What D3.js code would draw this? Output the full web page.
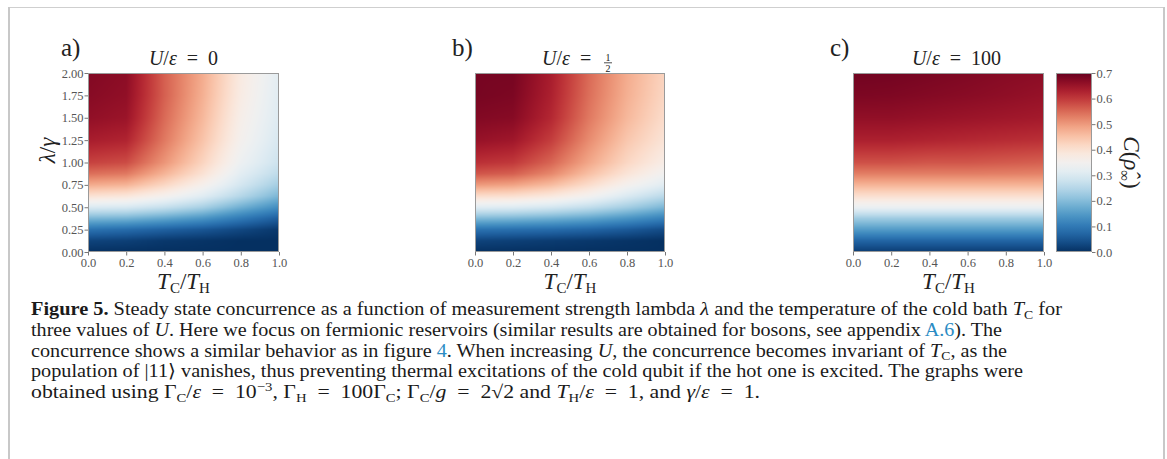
<!DOCTYPE html>
<html>
<head>
<meta charset="utf-8">
<script src="https://cdn.jsdelivr.net/npm/d3@7"></script>
<style>
  body { margin: 0; background: #fff; }
  text { font-family: "Liberation Serif", "DejaVu Serif", serif; }
</style>
</head>
<body>
<svg id="fig" width="1167" height="459"></svg>
<script>
const xGrid = [0, 0.2, 0.4, 0.6, 0.8, 1.0];          // T_C / T_H
const yGrid = [0, 0.125, 0.25, 0.375, 0.5, 0.625, 0.75, 0.875, 1.0, 1.25, 1.5, 1.75, 2.0]; // lambda / gamma

// rows follow yGrid (bottom -> top), columns follow xGrid
const concA = [ // U/eps = 0
  [0, 0, 0, 0, 0, 0],
  [0.025, 0.02, 0.01, 0.005, 0, 0],
  [0.09, 0.08, 0.065, 0.05, 0.03, 0.01],
  [0.19, 0.185, 0.165, 0.14, 0.10, 0.06],
  [0.30, 0.295, 0.27, 0.235, 0.18, 0.13],
  [0.40, 0.39, 0.355, 0.31, 0.25, 0.19],
  [0.48, 0.47, 0.42, 0.36, 0.29, 0.23],
  [0.545, 0.535, 0.47, 0.40, 0.315, 0.26],
  [0.59, 0.58, 0.505, 0.425, 0.335, 0.28],
  [0.635, 0.625, 0.535, 0.45, 0.355, 0.295],
  [0.66, 0.65, 0.55, 0.465, 0.365, 0.305],
  [0.67, 0.66, 0.56, 0.475, 0.375, 0.31],
  [0.675, 0.665, 0.56, 0.48, 0.38, 0.315]
];
const concB = [ // U/eps = 1/2
  [0, 0, 0, 0, 0, 0],
  [0.025, 0.02, 0.015, 0.01, 0.005, 0],
  [0.09, 0.085, 0.08, 0.07, 0.055, 0.035],
  [0.195, 0.19, 0.18, 0.165, 0.14, 0.11],
  [0.31, 0.305, 0.29, 0.265, 0.23, 0.19],
  [0.41, 0.405, 0.385, 0.35, 0.30, 0.255],
  [0.50, 0.49, 0.46, 0.41, 0.355, 0.31],
  [0.57, 0.56, 0.52, 0.455, 0.395, 0.345],
  [0.61, 0.60, 0.555, 0.485, 0.42, 0.37],
  [0.655, 0.645, 0.595, 0.515, 0.445, 0.395],
  [0.675, 0.67, 0.62, 0.535, 0.465, 0.41],
  [0.685, 0.68, 0.63, 0.545, 0.475, 0.42],
  [0.685, 0.685, 0.635, 0.55, 0.48, 0.425]
];
const concC = [ // U/eps = 100
  [0.015, 0.015, 0.015, 0.015, 0.015, 0.015],
  [0.07, 0.07, 0.07, 0.07, 0.07, 0.07],
  [0.15, 0.15, 0.15, 0.15, 0.15, 0.15],
  [0.225, 0.225, 0.225, 0.225, 0.225, 0.225],
  [0.33, 0.33, 0.33, 0.33, 0.33, 0.33],
  [0.405, 0.405, 0.405, 0.405, 0.405, 0.405],
  [0.47, 0.47, 0.47, 0.47, 0.47, 0.47],
  [0.53, 0.53, 0.53, 0.53, 0.528, 0.525],
  [0.575, 0.575, 0.57, 0.57, 0.565, 0.56],
  [0.63, 0.63, 0.625, 0.62, 0.615, 0.61],
  [0.66, 0.66, 0.655, 0.65, 0.645, 0.64],
  [0.68, 0.678, 0.673, 0.668, 0.662, 0.655],
  [0.69, 0.688, 0.683, 0.677, 0.67, 0.665]
];

const xTicks = [0, 0.2, 0.4, 0.6, 0.8, 1.0];
const yTicks = [0, 0.25, 0.5, 0.75, 1.0, 1.25, 1.5, 1.75, 2.0];
const cbTicks = [0, 0.1, 0.2, 0.3, 0.4, 0.5, 0.6, 0.7];
const panelLetters = ["a)", "b)", "c)"];
const panelTitles = ["0", "", "100"];

const svg = d3.select("#fig");
const color = d3.scaleSequential(t => d3.interpolateRdBu(1 - t)).domain([0, 0.7]);
const EQ = "\u2002=\u2002";

// page frame
svg.append("line").attr("x1", 8).attr("x2", 1164).attr("y1", 7.5).attr("y2", 7.5)
  .attr("stroke", "#cfcfcf").attr("stroke-width", 1);
svg.append("line").attr("x1", 9).attr("x2", 9).attr("y1", 7).attr("y2", 459)
  .attr("stroke", "#c8c8c8").attr("stroke-width", 2);
svg.append("line").attr("x1", 1164).attr("x2", 1164).attr("y1", 7).attr("y2", 459)
  .attr("stroke", "#c8c8c8").attr("stroke-width", 2);

const plotTop = 73, plotBottom = 252;
const panels = [
  { left: 88, right: 279, data: concA, yLabels: true },
  { left: 475, right: 665, data: concB, yLabels: false },
  { left: 853, right: 1044, data: concC, yLabels: false }
];

function valueAt(grid, xv, yv) {
  xv = Math.max(0, Math.min(1, xv));
  yv = Math.max(0, Math.min(2, yv));
  let i = Math.min(xGrid.length - 2, Math.max(0, d3.bisectRight(xGrid, xv) - 1));
  let j = Math.min(yGrid.length - 2, Math.max(0, d3.bisectRight(yGrid, yv) - 1));
  const tx = (xv - xGrid[i]) / (xGrid[i + 1] - xGrid[i]);
  const ty = (yv - yGrid[j]) / (yGrid[j + 1] - yGrid[j]);
  const a = grid[j][i] * (1 - tx) + grid[j][i + 1] * tx;
  const b = grid[j + 1][i] * (1 - tx) + grid[j + 1][i + 1] * tx;
  return a * (1 - ty) + b * ty;
}

panels.forEach((p, k) => {
  const x = d3.scaleLinear().domain([0, 1]).range([p.left, p.right]);
  const y = d3.scaleLinear().domain([0, 2]).range([plotBottom, plotTop]);
  const w = p.right - p.left, h = plotBottom - plotTop;

  const canvas = document.createElement("canvas");
  canvas.width = w; canvas.height = h;
  const ctx = canvas.getContext("2d");
  const img = ctx.createImageData(w, h);
  for (let r = 0; r < h; r++) {
    const yv = y.invert(plotTop + r + 0.5);
    for (let c = 0; c < w; c++) {
      const xv = x.invert(p.left + c + 0.5);
      const col = d3.rgb(color(valueAt(p.data, xv, yv)));
      const o = (r * w + c) * 4;
      img.data[o] = col.r; img.data[o + 1] = col.g; img.data[o + 2] = col.b; img.data[o + 3] = 255;
    }
  }
  ctx.putImageData(img, 0, 0);

  const g = svg.append("g");
  g.append("image").attr("href", canvas.toDataURL())
    .attr("x", p.left).attr("y", plotTop).attr("width", w).attr("height", h)
    .attr("preserveAspectRatio", "none");
  g.append("rect").attr("x", p.left + 0.5).attr("y", plotTop + 0.5)
    .attr("width", w - 1).attr("height", h - 1)
    .attr("fill", "none").attr("stroke", "#9a9a9a").attr("stroke-width", 1);

  const xAxis = g.append("g").attr("transform", `translate(0,${plotBottom})`)
    .call(d3.axisBottom(x).tickValues(xTicks).tickFormat(d3.format(".1f")).tickSize(3.5).tickSizeOuter(0));
  xAxis.select(".domain").remove();
  xAxis.selectAll("line").attr("stroke", "#777");
  xAxis.selectAll("text").attr("fill", "#555").attr("font-size", 12.5)
    .attr("y", 6).attr("dy", "0.71em");

  if (p.yLabels) {
    const yAxis = g.append("g").attr("transform", `translate(${p.left},0)`)
      .call(d3.axisLeft(y).tickValues(yTicks).tickFormat(d3.format(".2f")).tickSize(3.5).tickSizeOuter(0));
    yAxis.select(".domain").remove();
    yAxis.selectAll("line").attr("stroke", "#777");
    yAxis.selectAll("text").attr("fill", "#555").attr("font-size", 12.5).attr("x", -4.5);
    // y label
    const yl = svg.append("text")
      .attr("transform", `translate(55,${(plotTop + plotBottom) / 2 - 12}) rotate(-90)`)
      .attr("text-anchor", "middle").attr("font-size", 23).attr("fill", "#222");
    yl.append("tspan").attr("font-style", "italic").text("λ");
    yl.append("tspan").text("/");
    yl.append("tspan").attr("font-style", "italic").text("γ");
  }

  // x label T_C / T_H
  const xl = svg.append("text").attr("x", (p.left + p.right) / 2).attr("y", 289)
    .attr("text-anchor", "middle").attr("font-size", 23).attr("fill", "#222");
  xl.append("tspan").attr("font-style", "italic").text("T");
  xl.append("tspan").attr("font-size", 15).attr("dy", 4).text("C");
  xl.append("tspan").attr("dy", -4).text("/");
  xl.append("tspan").attr("font-style", "italic").text("T");
  xl.append("tspan").attr("font-size", 15).attr("dy", 4).text("H");

  // panel letter
  const lx = [61, 452, 830][k];
  svg.append("text").attr("x", lx).attr("y", 56).attr("font-size", 25).attr("fill", "#222")
    .text(panelLetters[k]);

  // title
  const cx = (p.left + p.right) / 2;
  const t = svg.append("text").attr("y", 65).attr("font-size", 20).attr("fill", "#222")
    .attr("text-anchor", k === 1 ? "start" : "middle").attr("x", k === 1 ? cx - 28 : cx + (k === 2 ? 8 : 0));
  t.append("tspan").attr("font-style", "italic").text("U");
  t.append("tspan").text("/");
  t.append("tspan").attr("font-style", "italic").text("ε");
  t.append("tspan").text(k === 1 ? "\u2002=" : EQ + panelTitles[k]);
  if (k === 1) {
    const fx = cx + 38;
    svg.append("text").attr("x", fx).attr("y", 60.5).attr("text-anchor", "middle")
      .attr("font-size", 10).attr("fill", "#222").text("1");
    svg.append("line").attr("x1", fx - 4).attr("x2", fx + 4).attr("y1", 62.8).attr("y2", 62.8)
      .attr("stroke", "#222").attr("stroke-width", 0.8);
    svg.append("text").attr("x", fx).attr("y", 72).attr("text-anchor", "middle")
      .attr("font-size", 10).attr("fill", "#222").text("2");
  }
});

// colorbar
const cbLeft = 1056, cbRight = 1092;
const cbScale = d3.scaleLinear().domain([0, 0.7]).range([plotBottom, plotTop]);
const grad = svg.append("defs").append("linearGradient").attr("id", "cbgrad")
  .attr("x1", 0).attr("x2", 0).attr("y1", 1).attr("y2", 0);
d3.range(0, 1.0001, 0.05).forEach(s => {
  grad.append("stop").attr("offset", s).attr("stop-color", color(s * 0.7));
});
svg.append("rect").attr("x", cbLeft).attr("y", plotTop).attr("width", cbRight - cbLeft)
  .attr("height", plotBottom - plotTop).attr("fill", "url(#cbgrad)");
svg.append("rect").attr("x", cbLeft + 0.5).attr("y", plotTop + 0.5).attr("width", cbRight - cbLeft - 1)
  .attr("height", plotBottom - plotTop - 1).attr("fill", "none").attr("stroke", "#9a9a9a");
const cbAxis = svg.append("g").attr("transform", `translate(${cbRight},0)`)
  .call(d3.axisRight(cbScale).tickValues(cbTicks).tickFormat(d3.format(".1f")).tickSize(3.5).tickSizeOuter(0));
cbAxis.select(".domain").remove();
cbAxis.selectAll("line").attr("stroke", "#777");
cbAxis.selectAll("text").attr("fill", "#555").attr("font-size", 12.5).attr("x", 4.5);
const cbl = svg.append("text").attr("transform", `translate(1124,${(plotTop + plotBottom) / 2}) rotate(90)`)
  .attr("text-anchor", "middle").attr("font-size", 23).attr("fill", "#222");
cbl.append("tspan").attr("font-style", "italic").text("C");
cbl.append("tspan").text("(");
cbl.append("tspan").attr("font-style", "italic").text("ρ\u0302");
cbl.append("tspan").attr("font-size", 15).attr("dy", 4).text("∞");
cbl.append("tspan").attr("dy", -4).text(")");

// caption
const captionLines = [
  [["b", "Figure 5."], ["", " Steady state concurrence as a function of measurement strength lambda "], ["i", "λ"], ["", " and the temperature of the cold bath "], ["i", "T"], ["sub", "C"], ["", " for"]],
  [["", "three values of "], ["i", "U"], ["", ". Here we focus on fermionic reservoirs (similar results are obtained for bosons, see appendix "], ["link", "A.6"], ["", "). The"]],
  [["", "concurrence shows a similar behavior as in figure "], ["link", "4"], ["", ". When increasing "], ["i", "U"], ["", ", the concurrence becomes invariant of "], ["i", "T"], ["sub", "C"], ["", ", as the"]],
  [["", "population of |11⟩ vanishes, thus preventing thermal excitations of the cold qubit if the hot one is excited. The graphs were"]],
  [["", "obtained using Γ"], ["sub", "C"], ["", "/"], ["i", "ε"], ["", EQ + "10"], ["sup", "−3"], ["", ", Γ"], ["sub", "H"], ["", EQ + "100Γ"], ["sub", "C"], ["", "; Γ"], ["sub", "C"], ["", "/"], ["i", "g"], ["", EQ + "2√2 and "], ["i", "T"], ["sub", "H"], ["", "/"], ["i", "ε"], ["", EQ + "1, and "], ["i", "γ"], ["", "/"], ["i", "ε"], ["", EQ + "1."]]
];
const lineEnds = [1062, 1002, 1007, 1023, 760];
const baselines = [315, 336, 356.5, 377, 398];

captionLines.forEach((parts, li) => {
  const tx = svg.append("text").attr("x", 31).attr("y", baselines[li])
    .attr("font-size", 18.5).attr("fill", "#1a1a1a")
    .attr("textLength", lineEnds[li] - 31).attr("lengthAdjust", "spacingAndGlyphs");
  let shift = 0;
  parts.forEach(([kind, s]) => {
    const ts = tx.append("tspan").text(s);
    let want = 0;
    if (kind === "b") ts.attr("font-weight", "bold");
    if (kind === "i") ts.attr("font-style", "italic");
    if (kind === "link") ts.attr("fill", "#2b8cc4");
    if (kind === "sub") { ts.attr("font-size", 12.5); want = 3.5; }
    if (kind === "sup") { ts.attr("font-size", 12.5); want = -7; }
    if (want !== shift) { ts.attr("dy", want - shift); shift = want; }
  });
});
</script>
</body>
</html>
